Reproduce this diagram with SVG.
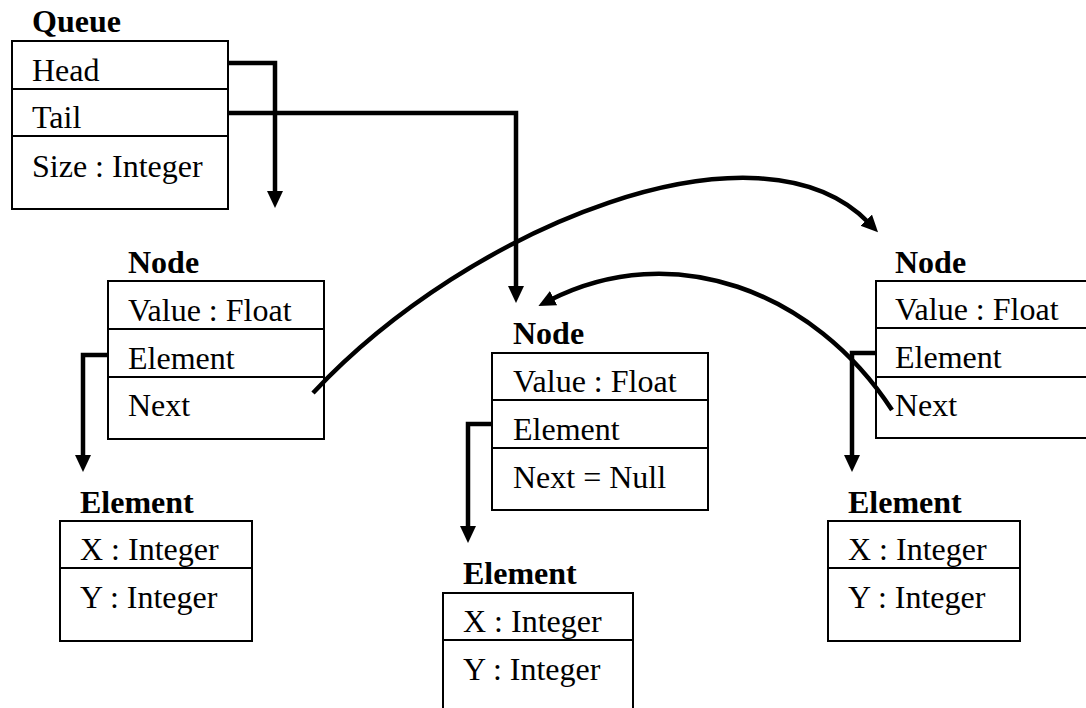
<svg xmlns="http://www.w3.org/2000/svg" width="1086" height="708" viewBox="0 0 1086 708" font-family="Liberation Serif" font-size="32">
<style>
.box{fill:#fff;stroke:#000;stroke-width:2}
.div{stroke:#000;stroke-width:2}
.b{font-weight:bold}
.c{fill:none;stroke:#000;stroke-width:4.5;stroke-linejoin:miter}
</style>
<defs>
<marker id="ah" markerUnits="userSpaceOnUse" markerWidth="19" markerHeight="17" refX="4" refY="8" orient="auto">
<path d="M0,0 L17,8 L0,16 z" fill="#000"/>
</marker>
</defs>
<rect width="1086" height="708" fill="#fff"/>
<g id="queue">
<text class="b" x="32" y="32">Queue</text>
<rect class="box" x="12" y="41" width="216" height="168"/>
<line class="div" x1="12" y1="89" x2="228" y2="89"/>
<line class="div" x1="12" y1="136" x2="228" y2="136"/>
<text x="32" y="81">Head</text>
<text x="32" y="128">Tail</text>
<text x="32" y="177">Size : Integer</text>
</g>
<g id="node-left">
<text class="b" x="128" y="273">Node</text>
<rect class="box" x="108" y="281" width="216" height="158"/>
<line class="div" x1="108" y1="329" x2="324" y2="329"/>
<line class="div" x1="108" y1="377" x2="324" y2="377"/>
<text x="128" y="321">Value : Float</text>
<text x="128" y="369">Element</text>
<text x="128" y="416">Next</text>
</g>
<g id="node-center">
<text class="b" x="513" y="344">Node</text>
<rect class="box" x="492" y="353" width="216" height="157"/>
<line class="div" x1="492" y1="400" x2="708" y2="400"/>
<line class="div" x1="492" y1="448" x2="708" y2="448"/>
<text x="513" y="392">Value : Float</text>
<text x="513" y="440">Element</text>
<text x="513" y="488">Next = Null</text>
</g>
<g id="node-right">
<text class="b" x="895" y="273">Node</text>
<rect class="box" x="876" y="281" width="216" height="157"/>
<line class="div" x1="876" y1="328" x2="1092" y2="328"/>
<line class="div" x1="876" y1="377" x2="1092" y2="377"/>
<text x="895" y="320">Value : Float</text>
<text x="895" y="368">Element</text>
<text x="895" y="416">Next</text>
</g>
<g id="element-left">
<text class="b" x="80" y="513">Element</text>
<rect class="box" x="60" y="521" width="192" height="120"/>
<line class="div" x1="60" y1="568" x2="252" y2="568"/>
<text x="80" y="560">X : Integer</text>
<text x="80" y="608">Y : Integer</text>
</g>
<g id="element-center">
<text class="b" x="463" y="584">Element</text>
<rect class="box" x="443" y="593" width="190" height="120"/>
<line class="div" x1="443" y1="640" x2="633" y2="640"/>
<text x="463" y="632">X : Integer</text>
<text x="463" y="680">Y : Integer</text>
</g>
<g id="element-right">
<text class="b" x="848" y="513">Element</text>
<rect class="box" x="828" y="521" width="192" height="120"/>
<line class="div" x1="828" y1="568" x2="1020" y2="568"/>
<text x="848" y="560">X : Integer</text>
<text x="848" y="608">Y : Integer</text>
</g>
<g id="connectors">
<path class="c" d="M228,63 H275 V195" marker-end="url(#ah)"/>
<path class="c" d="M228,113 H516 V290" marker-end="url(#ah)"/>
<path class="c" d="M108,355 H83 V459" marker-end="url(#ah)"/>
<path class="c" d="M492,424 H468 V530" marker-end="url(#ah)"/>
<path class="c" d="M876,353 H852 V459" marker-end="url(#ah)"/>
<path class="c" d="M313,393 C470,225 760,110 869,223" marker-end="url(#ah)"/>
<path class="c" d="M892,410 C814,290 672,238 550,300" marker-end="url(#ah)"/>
</g>
</svg>
